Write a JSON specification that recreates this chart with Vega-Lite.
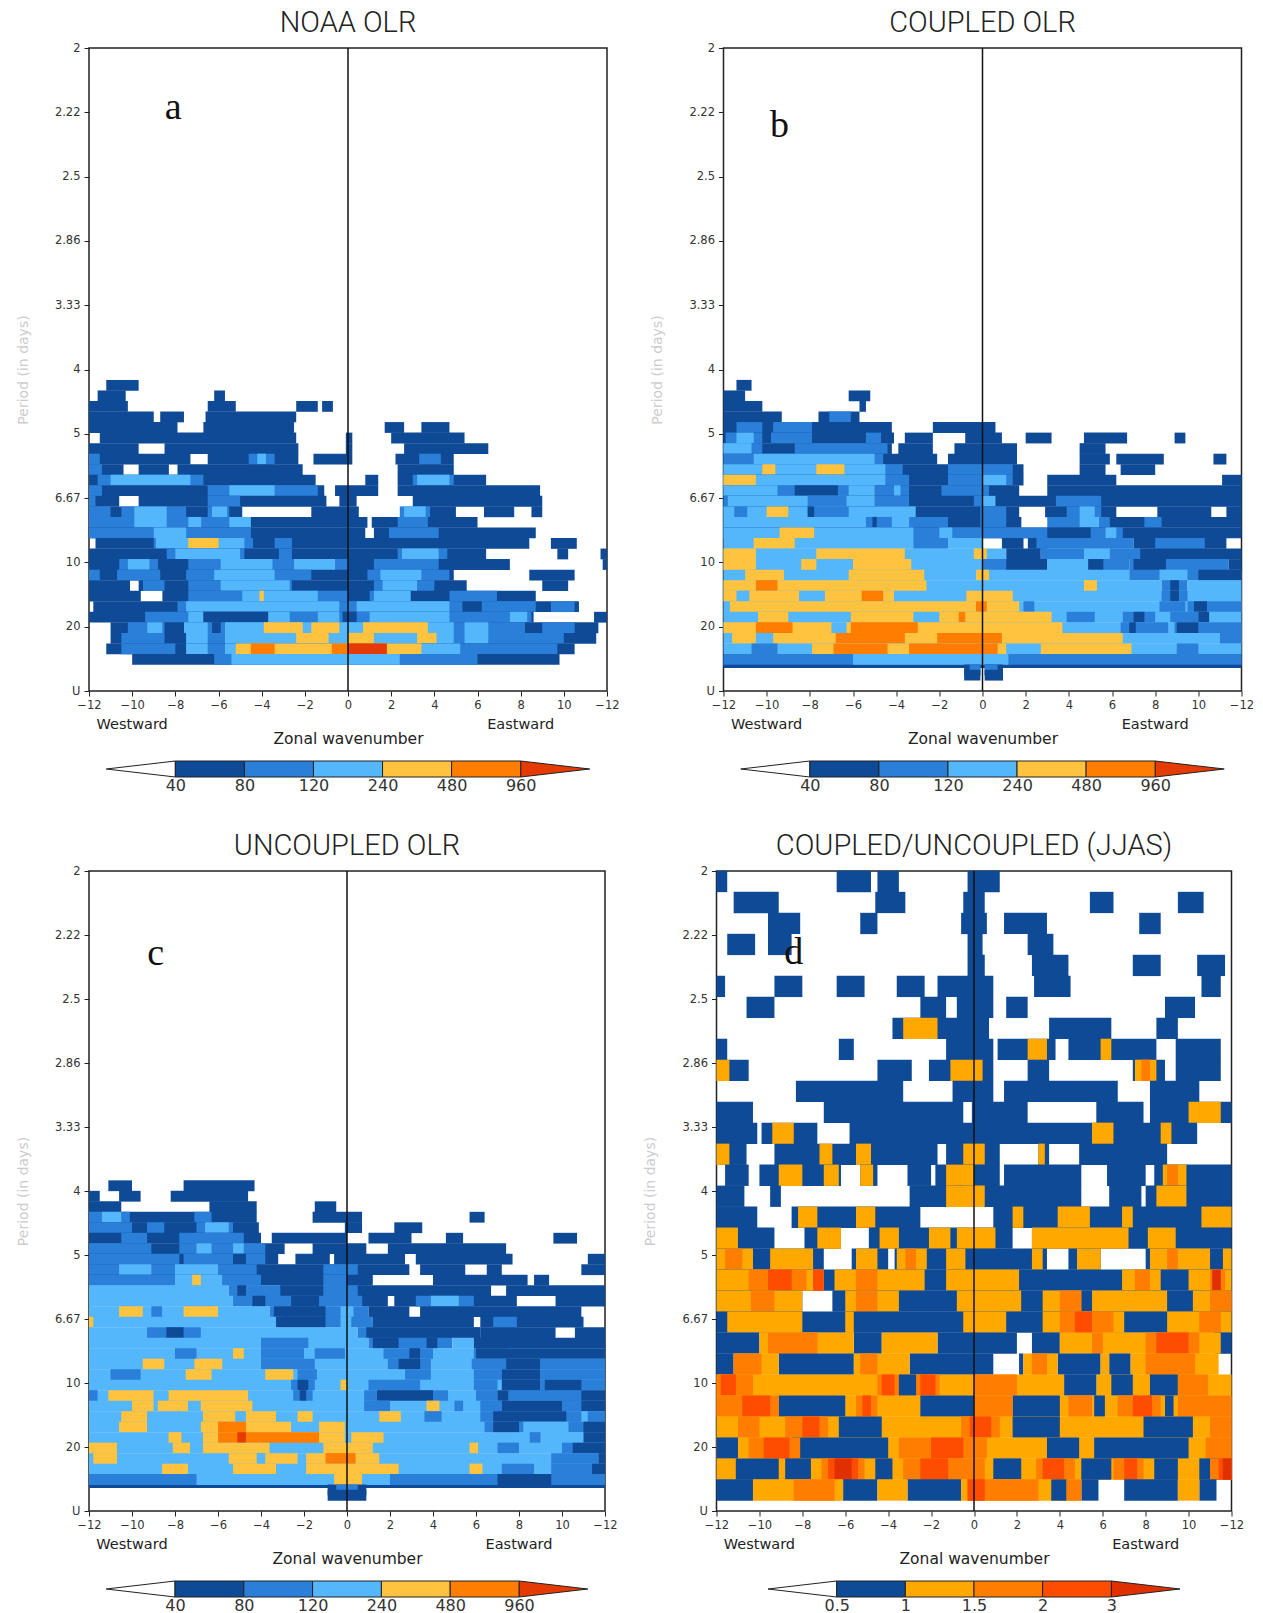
{"$schema":"https://vega.github.io/schema/vega-lite/v6.json","background":"white","padding":{"left":15,"top":8,"right":0,"bottom":0},
"config":{"view":{"stroke":"#222","strokeWidth":1.5},"title":{"font":"Roboto","fontSize":29,"fontWeight":300,"color":"#222","offset":4},"axis":{"grid":false,"labelFont":"DejaVu Sans","labelFontSize":11.5,"labelColor":"#333","titleFont":"DejaVu Sans","titleFontWeight":"normal","tickColor":"#222","domain":false,"labelFlush":false}},
"datasets":{
"a":[
{"n":29,"x0":-11.2,"x1":-9.7,"v":40},
{"n":28,"x0":-11.6,"x1":-10.3,"v":40},{"n":28,"x0":-6.2,"x1":-5.7,"v":40},
{"n":27,"x0":-12,"x1":-10.2,"v":40},{"n":27,"x0":-6.5,"x1":-5.2,"v":40},{"n":27,"x0":-2.4,"x1":-1.4,"v":40},{"n":27,"x0":-1.2,"x1":-0.7,"v":40},
{"n":26,"x0":-12,"x1":-9,"v":40},{"n":26,"x0":-8.7,"x1":-7.6,"v":40},{"n":26,"x0":-6.6,"x1":-2.4,"v":40},
{"n":25,"x0":-12,"x1":-7.9,"v":40},{"n":25,"x0":-6.7,"x1":-2.5,"v":40},{"n":25,"x0":1.7,"x1":2.6,"v":40},{"n":25,"x0":3.4,"x1":4.7,"v":40},
{"n":24,"x0":-11.5,"x1":-2.4,"v":40},{"n":24,"x0":-0.1,"x1":0.2,"v":40},{"n":24,"x0":2,"x1":5.4,"v":40},
{"n":23,"x0":-12,"x1":-9.7,"v":40},{"n":23,"x0":-8.5,"x1":-2.3,"v":40},{"n":23,"x0":-0.1,"x1":0.2,"v":40},{"n":23,"x0":2.6,"x1":6.5,"v":40},
{"n":22,"x0":-12,"x1":-7.3,"v":40},{"n":22,"x0":-6.5,"x1":-2.3,"v":40},{"n":22,"x0":-1.6,"x1":0.2,"v":40},{"n":22,"x0":2.2,"x1":4.9,"v":40},{"n":22,"x0":-12,"x1":-11.5,"v":80},{"n":22,"x0":-4.6,"x1":-3.4,"v":80},{"n":22,"x0":3.3,"x1":4.3,"v":80},{"n":22,"x0":-4.2,"x1":-3.8,"v":120},
{"n":21,"x0":-12,"x1":-10.4,"v":40},{"n":21,"x0":-9.7,"x1":-8.3,"v":40},{"n":21,"x0":-7.9,"x1":-2.1,"v":40},{"n":21,"x0":2.3,"x1":4.9,"v":40},{"n":21,"x0":-12,"x1":-11.4,"v":80},
{"n":20,"x0":-12,"x1":-1.5,"v":40},{"n":20,"x0":0.8,"x1":1.4,"v":40},{"n":20,"x0":2.3,"x1":6.4,"v":40},{"n":20,"x0":-11.6,"x1":-6.7,"v":80},{"n":20,"x0":3,"x1":4.9,"v":80},{"n":20,"x0":-11,"x1":-7.3,"v":120},{"n":20,"x0":3.2,"x1":4.7,"v":120},
{"n":19,"x0":-12,"x1":-1.1,"v":40},{"n":19,"x0":-0.6,"x1":1.4,"v":40},{"n":19,"x0":2.3,"x1":8.9,"v":40},{"n":19,"x0":-12,"x1":-11.4,"v":80},{"n":19,"x0":-6.5,"x1":-1.4,"v":80},{"n":19,"x0":-5.5,"x1":-3.4,"v":120},
{"n":18,"x0":-12,"x1":-10.6,"v":40},{"n":18,"x0":-9.7,"x1":-1,"v":40},{"n":18,"x0":-0.4,"x1":0.4,"v":40},{"n":18,"x0":3,"x1":9,"v":40},{"n":18,"x0":-12,"x1":-11.7,"v":80},{"n":18,"x0":-6.5,"x1":-5,"v":80},
{"n":17,"x0":-12,"x1":-4.9,"v":40},{"n":17,"x0":-1.7,"x1":0.5,"v":40},{"n":17,"x0":3,"x1":5,"v":40},{"n":17,"x0":6.3,"x1":7.7,"v":40},{"n":17,"x0":8.5,"x1":9,"v":40},{"n":17,"x0":-12,"x1":-11,"v":80},{"n":17,"x0":-10.5,"x1":-7.5,"v":80},{"n":17,"x0":-6.5,"x1":-5.5,"v":80},{"n":17,"x0":2.4,"x1":3.8,"v":80},{"n":17,"x0":-9.9,"x1":-8.4,"v":120},{"n":17,"x0":-6.3,"x1":-5.6,"v":120},{"n":17,"x0":2.6,"x1":3.6,"v":120},
{"n":16,"x0":-12,"x1":0.9,"v":40},{"n":16,"x0":1.1,"x1":6,"v":40},{"n":16,"x0":-12,"x1":-4.5,"v":80},{"n":16,"x0":2.3,"x1":3.7,"v":80},{"n":16,"x0":-9.9,"x1":-8.4,"v":120},{"n":16,"x0":-7.4,"x1":-6.8,"v":120},{"n":16,"x0":-5.5,"x1":-4.5,"v":120},
{"n":15,"x0":-12,"x1":0.8,"v":40},{"n":15,"x0":1.2,"x1":8.7,"v":40},{"n":15,"x0":-12,"x1":-4.5,"v":80},{"n":15,"x0":1.9,"x1":4.2,"v":80},{"n":15,"x0":-9,"x1":-7.5,"v":120},
{"n":14,"x0":-11.7,"x1":8.4,"v":40},{"n":14,"x0":9.4,"x1":10.6,"v":40},{"n":14,"x0":-9,"x1":-4.4,"v":80},{"n":14,"x0":-3.4,"x1":-2.6,"v":80},{"n":14,"x0":-8.9,"x1":-4.8,"v":120},{"n":14,"x0":-7.4,"x1":-6,"v":240},
{"n":13,"x0":-12,"x1":6.4,"v":40},{"n":13,"x0":9.7,"x1":10.2,"v":40},{"n":13,"x0":11.7,"x1":12,"v":40},{"n":13,"x0":-8.4,"x1":-4.8,"v":80},{"n":13,"x0":-3.2,"x1":-2.6,"v":80},{"n":13,"x0":2.3,"x1":4.6,"v":80},{"n":13,"x0":-8,"x1":-5,"v":120},{"n":13,"x0":2.5,"x1":4.2,"v":120},
{"n":12,"x0":-12,"x1":7.5,"v":40},{"n":12,"x0":11.8,"x1":12,"v":40},{"n":12,"x0":-10.6,"x1":-8.8,"v":80},{"n":12,"x0":-7.4,"x1":0,"v":80},{"n":12,"x0":1.2,"x1":4.2,"v":80},{"n":12,"x0":-10.2,"x1":-9.2,"v":120},{"n":12,"x0":-5.9,"x1":-3.5,"v":120},{"n":12,"x0":-2.5,"x1":-0.6,"v":120},
{"n":11,"x0":-12,"x1":4.9,"v":40},{"n":11,"x0":8.4,"x1":10.5,"v":40},{"n":11,"x0":-12,"x1":-11.5,"v":80},{"n":11,"x0":-10.7,"x1":-8.7,"v":80},{"n":11,"x0":-7.5,"x1":-1.7,"v":80},{"n":11,"x0":0.9,"x1":4.7,"v":80},{"n":11,"x0":-6.2,"x1":-3.4,"v":120},{"n":11,"x0":1.5,"x1":3.4,"v":120},
{"n":10,"x0":-12,"x1":-10.1,"v":40},{"n":10,"x0":-9.7,"x1":5.5,"v":40},{"n":10,"x0":9,"x1":10.2,"v":40},{"n":10,"x0":-9.5,"x1":-8.5,"v":80},{"n":10,"x0":-7.4,"x1":-2.6,"v":80},{"n":10,"x0":1.2,"x1":4,"v":80},{"n":10,"x0":-5.9,"x1":-2.7,"v":120},{"n":10,"x0":1.6,"x1":3.2,"v":120},
{"n":9,"x0":-12,"x1":-9.6,"v":40},{"n":9,"x0":-8.6,"x1":8.7,"v":40},{"n":9,"x0":-7.4,"x1":0,"v":80},{"n":9,"x0":1,"x1":2.9,"v":80},{"n":9,"x0":4.7,"x1":6.9,"v":80},{"n":9,"x0":-4.9,"x1":-1.4,"v":120},{"n":9,"x0":1.2,"x1":2.9,"v":120},{"n":9,"x0":-4.1,"x1":-3.9,"v":240},
{"n":8,"x0":-11.8,"x1":10.7,"v":40},{"n":8,"x0":-7.9,"x1":8.7,"v":80},{"n":8,"x0":9.4,"x1":10.5,"v":80},{"n":8,"x0":-7.5,"x1":-0.4,"v":120},{"n":8,"x0":0.4,"x1":4.7,"v":120},{"n":8,"x0":5.3,"x1":6.2,"v":40},
{"n":7,"x0":-12,"x1":8.6,"v":40},{"n":7,"x0":11.4,"x1":12,"v":40},{"n":7,"x0":-9.4,"x1":8.5,"v":80},{"n":7,"x0":-7.4,"x1":-6.7,"v":120},{"n":7,"x0":-3.7,"x1":-0.4,"v":120},{"n":7,"x0":1,"x1":4.7,"v":120},{"n":7,"x0":7.5,"x1":8.3,"v":120},{"n":7,"x0":-6.7,"x1":-3.7,"v":40},{"n":7,"x0":-0.25,"x1":0.4,"v":40},{"n":7,"x0":-2.7,"x1":-1.4,"v":80},
{"n":6,"x0":-11,"x1":11.6,"v":40},{"n":6,"x0":-10.2,"x1":8.2,"v":80},{"n":6,"x0":9,"x1":10.5,"v":80},{"n":6,"x0":-9.3,"x1":-8.6,"v":120},{"n":6,"x0":-7.6,"x1":-6.5,"v":120},{"n":6,"x0":-5.7,"x1":4.9,"v":120},{"n":6,"x0":5.4,"x1":6.5,"v":120},{"n":6,"x0":-8.5,"x1":-7.6,"v":40},{"n":6,"x0":-6.3,"x1":-5.9,"v":40},{"n":6,"x0":-3.9,"x1":-2.1,"v":240},{"n":6,"x0":-1.7,"x1":-0.4,"v":240},{"n":6,"x0":0.7,"x1":3.7,"v":240},
{"n":5,"x0":-11,"x1":11.5,"v":40},{"n":5,"x0":-10.5,"x1":10,"v":80},{"n":5,"x0":-8.5,"x1":-7.5,"v":40},{"n":5,"x0":-7.5,"x1":-6.5,"v":120},{"n":5,"x0":-5.7,"x1":4.9,"v":120},{"n":5,"x0":5.4,"x1":6.5,"v":120},{"n":5,"x0":-2.4,"x1":-0.9,"v":240},{"n":5,"x0":0,"x1":1.2,"v":240},{"n":5,"x0":3.2,"x1":4.1,"v":240},
{"n":4,"x0":-11.2,"x1":10.5,"v":40},{"n":4,"x0":-10.5,"x1":-8,"v":80},{"n":4,"x0":-7.5,"x1":9.7,"v":80},{"n":4,"x0":-7.5,"x1":-6.5,"v":120},{"n":4,"x0":-5.7,"x1":5.2,"v":120},{"n":4,"x0":-5.2,"x1":3.4,"v":240},{"n":4,"x0":-4.5,"x1":-3.4,"v":480},{"n":4,"x0":-0.75,"x1":1.75,"v":480},{"n":4,"x0":0,"x1":1.8,"v":960},
{"n":3,"x0":-10,"x1":9.8,"v":40},{"n":3,"x0":-6.2,"x1":6,"v":80},{"n":3,"x0":-5.4,"x1":2.4,"v":120}
],
"b":[
{"n":29,"x0":-11.4,"x1":-10.7,"v":40},
{"n":28,"x0":-12,"x1":-11,"v":40},{"n":28,"x0":-6.2,"x1":-5.2,"v":40},
{"n":27,"x0":-12,"x1":-10.2,"v":40},{"n":27,"x0":-5.7,"x1":-5.4,"v":40},
{"n":26,"x0":-12,"x1":-9.3,"v":40},{"n":26,"x0":-7.6,"x1":-5.7,"v":40},{"n":26,"x0":-7.1,"x1":-6.1,"v":80},
{"n":25,"x0":-12,"x1":-4.2,"v":40},{"n":25,"x0":-2.3,"x1":0.6,"v":40},{"n":25,"x0":-11.4,"x1":-10.2,"v":80},{"n":25,"x0":-9.7,"x1":-7.9,"v":80},
{"n":24,"x0":-12,"x1":-4.1,"v":40},{"n":24,"x0":-3.6,"x1":-2.3,"v":40},{"n":24,"x0":-0.8,"x1":0.9,"v":40},{"n":24,"x0":2,"x1":3.2,"v":40},{"n":24,"x0":4.7,"x1":6.7,"v":40},{"n":24,"x0":8.9,"x1":9.4,"v":40},{"n":24,"x0":-11.9,"x1":-10.2,"v":80},{"n":24,"x0":-9.8,"x1":-7.9,"v":80},{"n":24,"x0":-5.4,"x1":-4.7,"v":80},{"n":24,"x0":-11.4,"x1":-10.6,"v":120},
{"n":23,"x0":-12,"x1":-4.2,"v":40},{"n":23,"x0":-3.9,"x1":-2.3,"v":40},{"n":23,"x0":-1.3,"x1":1.6,"v":40},{"n":23,"x0":4.5,"x1":5.7,"v":40},{"n":23,"x0":-12,"x1":-10.2,"v":80},{"n":23,"x0":-8.7,"x1":-4.4,"v":80},{"n":23,"x0":-12,"x1":-10.7,"v":120},
{"n":22,"x0":-12,"x1":-2.1,"v":40},{"n":22,"x0":-1.6,"x1":1.6,"v":40},{"n":22,"x0":4.5,"x1":5.9,"v":40},{"n":22,"x0":6.2,"x1":8.4,"v":40},{"n":22,"x0":10.7,"x1":11.3,"v":40},{"n":22,"x0":-12,"x1":-4.6,"v":80},{"n":22,"x0":-10.6,"x1":-5,"v":120},
{"n":21,"x0":-12,"x1":1.9,"v":40},{"n":21,"x0":4.5,"x1":5.7,"v":40},{"n":21,"x0":6.4,"x1":8,"v":40},{"n":21,"x0":-12,"x1":-3.7,"v":80},{"n":21,"x0":-1.6,"x1":1.4,"v":80},{"n":21,"x0":-12,"x1":-4.5,"v":120},{"n":21,"x0":-10.2,"x1":-9.6,"v":240},{"n":21,"x0":-7.7,"x1":-6.4,"v":240},
{"n":20,"x0":-12,"x1":1.9,"v":40},{"n":20,"x0":3,"x1":6.2,"v":40},{"n":20,"x0":11.1,"x1":12,"v":40},{"n":20,"x0":-12,"x1":-3.4,"v":80},{"n":20,"x0":-1.6,"x1":1.4,"v":80},{"n":20,"x0":-12,"x1":-4.5,"v":120},{"n":20,"x0":0,"x1":1.1,"v":120},{"n":20,"x0":-12,"x1":-10.5,"v":240},
{"n":19,"x0":-12,"x1":1.7,"v":40},{"n":19,"x0":3,"x1":12,"v":40},{"n":19,"x0":-12,"x1":-3.4,"v":80},{"n":19,"x0":-1.9,"x1":0.3,"v":80},{"n":19,"x0":-12,"x1":-5,"v":120},{"n":19,"x0":-4.1,"x1":-3.8,"v":120},{"n":19,"x0":-9.5,"x1":-6.2,"v":80},{"n":19,"x0":-8.7,"x1":-6.7,"v":40},
{"n":18,"x0":-12,"x1":12,"v":40},{"n":18,"x0":-12,"x1":-3.4,"v":80},{"n":18,"x0":-0.4,"x1":0.4,"v":80},{"n":18,"x0":3.4,"x1":5.5,"v":80},{"n":18,"x0":-11.8,"x1":-5,"v":120},{"n":18,"x0":0,"x1":0.6,"v":120},{"n":18,"x0":-8.1,"x1":-6.3,"v":80},
{"n":17,"x0":-12,"x1":1.7,"v":40},{"n":17,"x0":2.9,"x1":6.2,"v":40},{"n":17,"x0":8.1,"x1":10.6,"v":40},{"n":17,"x0":11.3,"x1":12,"v":40},{"n":17,"x0":-12,"x1":-3.1,"v":80},{"n":17,"x0":-0.1,"x1":1.1,"v":80},{"n":17,"x0":3.9,"x1":5.5,"v":80},{"n":17,"x0":-12,"x1":-3.1,"v":120},{"n":17,"x0":4.5,"x1":5.2,"v":120},{"n":17,"x0":-11.5,"x1":-10.9,"v":80},{"n":17,"x0":-8.1,"x1":-6.2,"v":80},{"n":17,"x0":-10,"x1":-9,"v":240},{"n":17,"x0":-8.1,"x1":-7.8,"v":40},
{"n":16,"x0":-12,"x1":1.8,"v":40},{"n":16,"x0":3.2,"x1":12,"v":40},{"n":16,"x0":-12,"x1":-1.6,"v":80},{"n":16,"x0":-0.1,"x1":1.1,"v":80},{"n":16,"x0":3,"x1":5.9,"v":80},{"n":16,"x0":-12,"x1":-3.4,"v":120},{"n":16,"x0":4.5,"x1":5.4,"v":120},{"n":16,"x0":-5.4,"x1":-4.2,"v":80},{"n":16,"x0":-5.1,"x1":-4.9,"v":40},{"n":16,"x0":7.5,"x1":8.3,"v":80},
{"n":15,"x0":-12,"x1":12,"v":40},{"n":15,"x0":-12,"x1":4.6,"v":80},{"n":15,"x0":5,"x1":6.5,"v":80},{"n":15,"x0":-12,"x1":-3.2,"v":120},{"n":15,"x0":-2,"x1":-1.4,"v":120},{"n":15,"x0":5.7,"x1":6.2,"v":120},{"n":15,"x0":-9.4,"x1":-7.8,"v":240},{"n":15,"x0":3,"x1":5,"v":40},
{"n":14,"x0":-12,"x1":0,"v":120},{"n":14,"x0":-3.2,"x1":-1.6,"v":80},{"n":14,"x0":0.9,"x1":1.9,"v":40},{"n":14,"x0":2.1,"x1":3,"v":40},{"n":14,"x0":2.5,"x1":7,"v":80},{"n":14,"x0":7,"x1":11.3,"v":40},{"n":14,"x0":8,"x1":10.3,"v":80},{"n":14,"x0":-10.6,"x1":-8.7,"v":240},
{"n":13,"x0":-12,"x1":1.1,"v":120},{"n":13,"x0":1.1,"x1":2.7,"v":40},{"n":13,"x0":2.7,"x1":7.3,"v":80},{"n":13,"x0":4.7,"x1":5.9,"v":120},{"n":13,"x0":7.3,"x1":12,"v":40},{"n":13,"x0":-12,"x1":-10.5,"v":240},{"n":13,"x0":-7.7,"x1":-3.6,"v":240},{"n":13,"x0":-0.4,"x1":0.2,"v":240},
{"n":12,"x0":-12,"x1":3,"v":120},{"n":12,"x0":0,"x1":3,"v":80},{"n":12,"x0":1.1,"x1":3,"v":40},{"n":12,"x0":3,"x1":6.8,"v":120},{"n":12,"x0":4.9,"x1":6.8,"v":80},{"n":12,"x0":4.9,"x1":5.6,"v":40},{"n":12,"x0":6.8,"x1":11.4,"v":80},{"n":12,"x0":7,"x1":8.5,"v":40},{"n":12,"x0":11.4,"x1":12,"v":40},{"n":12,"x0":-12,"x1":-10.5,"v":240},{"n":12,"x0":-8.4,"x1":-3.3,"v":240},{"n":12,"x0":-7.7,"x1":-6,"v":120},
{"n":11,"x0":-12,"x1":6.8,"v":120},{"n":11,"x0":6.8,"x1":12,"v":80},{"n":11,"x0":10,"x1":12,"v":40},{"n":11,"x0":8.2,"x1":9.5,"v":120},{"n":11,"x0":-11,"x1":-9.2,"v":240},{"n":11,"x0":-6.2,"x1":-2.7,"v":240},{"n":11,"x0":-0.3,"x1":0.3,"v":240},
{"n":10,"x0":-12,"x1":8.3,"v":120},{"n":10,"x0":8.3,"x1":9.5,"v":80},{"n":10,"x0":8.7,"x1":9.1,"v":40},{"n":10,"x0":9.5,"x1":12,"v":120},{"n":10,"x0":-12,"x1":-2.6,"v":240},{"n":10,"x0":4.7,"x1":5.3,"v":240},{"n":10,"x0":-10.5,"x1":-9.5,"v":480},
{"n":9,"x0":-12,"x1":12,"v":120},{"n":9,"x0":8.3,"x1":9.5,"v":80},{"n":9,"x0":8.7,"x1":9.1,"v":40},{"n":9,"x0":-12,"x1":-4.1,"v":240},{"n":9,"x0":-0.75,"x1":1.4,"v":240},{"n":9,"x0":-11.4,"x1":-10.8,"v":120},{"n":9,"x0":-8.5,"x1":-7.3,"v":120},{"n":9,"x0":-5.6,"x1":-4.6,"v":480},
{"n":8,"x0":-12,"x1":12,"v":120},{"n":8,"x0":1.9,"x1":2.4,"v":80},{"n":8,"x0":8.2,"x1":9.4,"v":80},{"n":8,"x0":9.5,"x1":12,"v":80},{"n":8,"x0":9.8,"x1":10.4,"v":40},{"n":8,"x0":-11.7,"x1":1.7,"v":240},{"n":8,"x0":-0.3,"x1":0.2,"v":480},
{"n":7,"x0":-12,"x1":12,"v":120},{"n":7,"x0":3.9,"x1":5.2,"v":80},{"n":7,"x0":6.5,"x1":8,"v":80},{"n":7,"x0":8.7,"x1":10,"v":80},{"n":7,"x0":7,"x1":7.5,"v":40},{"n":7,"x0":10,"x1":10.5,"v":40},{"n":7,"x0":-10.4,"x1":-9,"v":240},{"n":7,"x0":-6.1,"x1":-3.2,"v":240},{"n":7,"x0":-2,"x1":3.2,"v":240},{"n":7,"x0":-1.1,"x1":-0.8,"v":480},
{"n":6,"x0":-12,"x1":12,"v":120},{"n":6,"x0":6.4,"x1":8.6,"v":80},{"n":6,"x0":8.9,"x1":12,"v":80},{"n":6,"x0":6.8,"x1":7.1,"v":40},{"n":6,"x0":9,"x1":10,"v":40},{"n":6,"x0":-12,"x1":-7,"v":240},{"n":6,"x0":-6.3,"x1":3.7,"v":240},{"n":6,"x0":-10.5,"x1":-8.8,"v":480},{"n":6,"x0":-6.1,"x1":-3,"v":480},
{"n":5,"x0":-12,"x1":12,"v":120},{"n":5,"x0":11,"x1":12,"v":80},{"n":5,"x0":-11.6,"x1":-10.5,"v":240},{"n":5,"x0":-9.7,"x1":6.5,"v":240},{"n":5,"x0":-6.8,"x1":-3.6,"v":480},{"n":5,"x0":-2.1,"x1":0.9,"v":480},
{"n":4,"x0":-12,"x1":12,"v":120},{"n":4,"x0":-10.7,"x1":-9.5,"v":80},{"n":4,"x0":9,"x1":10,"v":80},{"n":4,"x0":-7.9,"x1":1.1,"v":240},{"n":4,"x0":2.7,"x1":6.9,"v":240},{"n":4,"x0":-6.9,"x1":-4.4,"v":480},{"n":4,"x0":-3.4,"x1":0.7,"v":480},
{"n":2.7,"x0":-12,"x1":12,"v":40},{"n":3,"x0":-12,"x1":12,"v":80},{"n":3,"x0":-6,"x1":1.2,"v":120},
{"n":2,"x0":-0.85,"x1":-0.1,"v":40},{"n":2,"x0":0.1,"x1":0.95,"v":40},{"n":2,"x0":-0.6,"x1":-0.1,"v":80},{"n":2,"x0":0.1,"x1":0.7,"v":80},{"n":1.5,"x0":-0.85,"x1":-0.1,"v":40},{"n":1.5,"x0":0.1,"x1":0.95,"v":40}
],
"c":[
{"n":31,"x0":-11.1,"x1":-10,"v":40},{"n":31,"x0":-7.6,"x1":-4.3,"v":40},
{"n":30,"x0":-12,"x1":-11.5,"v":40},{"n":30,"x0":-10.6,"x1":-9.6,"v":40},{"n":30,"x0":-8.2,"x1":-4.6,"v":40},
{"n":29,"x0":-12,"x1":-10.5,"v":40},{"n":29,"x0":-6.4,"x1":-4.2,"v":40},{"n":29,"x0":-1.5,"x1":-0.5,"v":40},
{"n":28,"x0":-12,"x1":-4.2,"v":40},{"n":28,"x0":-1.6,"x1":0.7,"v":40},{"n":28,"x0":5.7,"x1":6.4,"v":40},{"n":28,"x0":-12,"x1":-10.1,"v":80},{"n":28,"x0":-7.1,"x1":-6.3,"v":80},{"n":28,"x0":-11.4,"x1":-10.5,"v":120},
{"n":27,"x0":-12,"x1":-4.1,"v":40},{"n":27,"x0":-0.1,"x1":0.7,"v":40},{"n":27,"x0":2.2,"x1":3.5,"v":40},{"n":27,"x0":-12,"x1":-10,"v":80},{"n":27,"x0":-9.3,"x1":-8.5,"v":80},{"n":27,"x0":-7,"x1":-5.3,"v":80},{"n":27,"x0":-6.6,"x1":-5.5,"v":120},
{"n":26,"x0":-12,"x1":-4,"v":40},{"n":26,"x0":-3.5,"x1":0,"v":40},{"n":26,"x0":1,"x1":3,"v":40},{"n":26,"x0":4.6,"x1":5.4,"v":40},{"n":26,"x0":9.6,"x1":10.7,"v":40},{"n":26,"x0":-10.5,"x1":-9.3,"v":80},{"n":26,"x0":-7.8,"x1":-4.8,"v":80},
{"n":25,"x0":-12,"x1":-2.9,"v":40},{"n":25,"x0":-1.6,"x1":0.9,"v":40},{"n":25,"x0":1.9,"x1":7.4,"v":40},{"n":25,"x0":-12,"x1":-9.1,"v":80},{"n":25,"x0":-7.8,"x1":-3.8,"v":80},{"n":25,"x0":-7,"x1":-6.3,"v":120},{"n":25,"x0":-5.3,"x1":-4.8,"v":120},
{"n":24,"x0":-12,"x1":-3.2,"v":40},{"n":24,"x0":-2.4,"x1":-0.8,"v":40},{"n":24,"x0":-0.6,"x1":2.7,"v":40},{"n":24,"x0":3.2,"x1":7.7,"v":40},{"n":24,"x0":11.2,"x1":12,"v":40},{"n":24,"x0":-12,"x1":-7.8,"v":80},{"n":24,"x0":-7.6,"x1":-3.8,"v":80},{"n":24,"x0":-5.3,"x1":-4.7,"v":40},
{"n":23,"x0":-12,"x1":2.9,"v":40},{"n":23,"x0":3.4,"x1":5.5,"v":40},{"n":23,"x0":6.5,"x1":7.2,"v":40},{"n":23,"x0":10.9,"x1":12,"v":40},{"n":23,"x0":-12,"x1":-4.2,"v":80},{"n":23,"x0":-1.1,"x1":0.5,"v":80},{"n":23,"x0":-10.6,"x1":-9.1,"v":120},{"n":23,"x0":-8,"x1":-6,"v":120},
{"n":22,"x0":-12,"x1":1.2,"v":40},{"n":22,"x0":4,"x1":8.4,"v":40},{"n":22,"x0":8.7,"x1":9.4,"v":40},{"n":22,"x0":-12,"x1":-8,"v":80},{"n":22,"x0":-5.8,"x1":-4,"v":80},{"n":22,"x0":-1.1,"x1":0,"v":80},{"n":22,"x0":-8,"x1":-5.8,"v":120},{"n":22,"x0":-7.2,"x1":-6.8,"v":240},
{"n":21,"x0":-12,"x1":-5.5,"v":120},{"n":21,"x0":-5.5,"x1":0.9,"v":80},{"n":21,"x0":-5.1,"x1":-4.7,"v":40},{"n":21,"x0":-3.1,"x1":-1.1,"v":40},{"n":21,"x0":0,"x1":6.7,"v":40},{"n":21,"x0":7.4,"x1":12,"v":40},{"n":21,"x0":-1,"x1":0.5,"v":80},
{"n":20,"x0":-12,"x1":-5.3,"v":120},{"n":20,"x0":-5.3,"x1":0.7,"v":80},{"n":20,"x0":-4.4,"x1":-3.8,"v":40},{"n":20,"x0":-2.6,"x1":-1.3,"v":40},{"n":20,"x0":0.7,"x1":1.9,"v":40},{"n":20,"x0":2.2,"x1":7.9,"v":40},{"n":20,"x0":9.7,"x1":12,"v":40},{"n":20,"x0":3.2,"x1":5.9,"v":80},{"n":20,"x0":3.9,"x1":5.2,"v":120},
{"n":19,"x0":-12,"x1":-3.6,"v":120},{"n":19,"x0":-10.6,"x1":-9.5,"v":240},{"n":19,"x0":-7.6,"x1":-6,"v":240},{"n":19,"x0":-9.1,"x1":-8.6,"v":80},{"n":19,"x0":-3.6,"x1":1,"v":80},{"n":19,"x0":-3.4,"x1":-1,"v":40},{"n":19,"x0":-0.3,"x1":0.3,"v":120},{"n":19,"x0":1,"x1":2.9,"v":40},{"n":19,"x0":3.4,"x1":10.9,"v":40},
{"n":18,"x0":-12,"x1":-3,"v":120},{"n":18,"x0":-12,"x1":-11.8,"v":240},{"n":18,"x0":-3,"x1":1.2,"v":80},{"n":18,"x0":-3.3,"x1":-1,"v":40},{"n":18,"x0":-0.3,"x1":0.2,"v":120},{"n":18,"x0":1.2,"x1":5.9,"v":40},{"n":18,"x0":6.2,"x1":11,"v":40},{"n":18,"x0":6.8,"x1":7.9,"v":80},
{"n":17,"x0":-12,"x1":0.5,"v":120},{"n":17,"x0":-9.3,"x1":-6.8,"v":80},{"n":17,"x0":-8.4,"x1":-7.6,"v":40},{"n":17,"x0":0.5,"x1":6.2,"v":80},{"n":17,"x0":0.9,"x1":6.2,"v":40},{"n":17,"x0":6.2,"x1":9.7,"v":40},{"n":17,"x0":10.6,"x1":12,"v":40},
{"n":16,"x0":-12,"x1":1,"v":120},{"n":16,"x0":-4,"x1":-1.8,"v":80},{"n":16,"x0":1,"x1":4.9,"v":80},{"n":16,"x0":1.2,"x1":2.4,"v":40},{"n":16,"x0":3.7,"x1":4.2,"v":40},{"n":16,"x0":4.9,"x1":5.9,"v":120},{"n":16,"x0":5.9,"x1":12,"v":40},
{"n":15,"x0":-12,"x1":12,"v":120},{"n":15,"x0":-8,"x1":-7,"v":80},{"n":15,"x0":-4,"x1":-2,"v":80},{"n":15,"x0":-1.5,"x1":-0.1,"v":80},{"n":15,"x0":1.7,"x1":4,"v":80},{"n":15,"x0":2.9,"x1":3.4,"v":40},{"n":15,"x0":5.9,"x1":7.4,"v":80},{"n":15,"x0":6,"x1":12,"v":40},{"n":15,"x0":-5.3,"x1":-4.8,"v":240},
{"n":14,"x0":-12,"x1":12,"v":120},{"n":14,"x0":-9.5,"x1":-8.5,"v":240},{"n":14,"x0":-7.1,"x1":-5.8,"v":240},{"n":14,"x0":-4,"x1":-1.5,"v":80},{"n":14,"x0":1.9,"x1":3.9,"v":80},{"n":14,"x0":2.4,"x1":3.4,"v":40},{"n":14,"x0":5.8,"x1":7.4,"v":80},{"n":14,"x0":7.4,"x1":9,"v":40},{"n":14,"x0":9,"x1":12,"v":80},
{"n":13,"x0":-12,"x1":12,"v":120},{"n":13,"x0":-11,"x1":-9.6,"v":80},{"n":13,"x0":-2.3,"x1":-1.4,"v":80},{"n":13,"x0":2.7,"x1":3.9,"v":80},{"n":13,"x0":5.9,"x1":7.2,"v":80},{"n":13,"x0":-7.5,"x1":-6.3,"v":240},{"n":13,"x0":-3.8,"x1":-2.5,"v":240},{"n":13,"x0":7.2,"x1":9,"v":40},{"n":13,"x0":9,"x1":12,"v":80},
{"n":12,"x0":-12,"x1":12,"v":120},{"n":12,"x0":-2.6,"x1":-1.5,"v":80},{"n":12,"x0":1,"x1":3.4,"v":80},{"n":12,"x0":5.9,"x1":7,"v":80},{"n":12,"x0":-2.3,"x1":-1.8,"v":40},{"n":12,"x0":7.2,"x1":9,"v":40},{"n":12,"x0":9,"x1":12,"v":80},{"n":12,"x0":9.2,"x1":10.9,"v":40},{"n":12,"x0":-0.3,"x1":0,"v":240},
{"n":11,"x0":-12,"x1":12,"v":120},{"n":11,"x0":-12,"x1":-11.6,"v":80},{"n":11,"x0":-2.5,"x1":-1.6,"v":80},{"n":11,"x0":0.8,"x1":4.7,"v":80},{"n":11,"x0":-2.2,"x1":-1.9,"v":40},{"n":11,"x0":1.4,"x1":4,"v":40},{"n":11,"x0":6,"x1":7,"v":80},{"n":11,"x0":7,"x1":12,"v":40},{"n":11,"x0":7.5,"x1":10.9,"v":80},{"n":11,"x0":-11.1,"x1":-9,"v":240},{"n":11,"x0":-8.3,"x1":-4.6,"v":240},
{"n":10,"x0":-12,"x1":12,"v":120},{"n":10,"x0":0.8,"x1":2,"v":80},{"n":10,"x0":5,"x1":5.4,"v":80},{"n":10,"x0":6.2,"x1":7.2,"v":80},{"n":10,"x0":7.2,"x1":12,"v":40},{"n":10,"x0":10,"x1":10.9,"v":80},{"n":10,"x0":-10,"x1":-9,"v":240},{"n":10,"x0":-8.8,"x1":-7.4,"v":240},{"n":10,"x0":-6.8,"x1":-4.4,"v":240},{"n":10,"x0":3.7,"x1":4.3,"v":240},
{"n":9,"x0":-12,"x1":12,"v":120},{"n":9,"x0":3.6,"x1":4.4,"v":80},{"n":9,"x0":6.2,"x1":12,"v":80},{"n":9,"x0":6.8,"x1":10.2,"v":40},{"n":9,"x0":10.9,"x1":11.2,"v":120},{"n":9,"x0":-10.5,"x1":-9.3,"v":240},{"n":9,"x0":-6.7,"x1":-3.3,"v":240},{"n":9,"x0":-2.3,"x1":-1.6,"v":240},{"n":9,"x0":1.5,"x1":2.5,"v":240},{"n":9,"x0":-5.2,"x1":-4.7,"v":120},
{"n":8,"x0":-12,"x1":12,"v":120},{"n":8,"x0":6.4,"x1":12,"v":80},{"n":8,"x0":6.8,"x1":8,"v":40},{"n":8,"x0":11,"x1":12,"v":40},{"n":8,"x0":8.2,"x1":10.3,"v":120},{"n":8,"x0":-10.6,"x1":-9.3,"v":240},{"n":8,"x0":-6.8,"x1":-2.6,"v":240},{"n":8,"x0":-1.3,"x1":-0.1,"v":240},{"n":8,"x0":-6,"x1":-4.7,"v":480},
{"n":7,"x0":-12,"x1":12,"v":120},{"n":7,"x0":8.5,"x1":9,"v":80},{"n":7,"x0":11,"x1":12,"v":40},{"n":7,"x0":-8.3,"x1":-7.7,"v":240},{"n":7,"x0":-6.7,"x1":-0.1,"v":240},{"n":7,"x0":0.2,"x1":1.7,"v":240},{"n":7,"x0":-6,"x1":-1.3,"v":480},{"n":7,"x0":-5.1,"x1":-4.7,"v":960},
{"n":6,"x0":-12,"x1":12,"v":120},{"n":6,"x0":7,"x1":8,"v":80},{"n":6,"x0":10,"x1":12,"v":80},{"n":6,"x0":10.5,"x1":12,"v":40},{"n":6,"x0":-12,"x1":-10.7,"v":240},{"n":6,"x0":-8.1,"x1":-7.3,"v":240},{"n":6,"x0":-6.7,"x1":-3.6,"v":240},{"n":6,"x0":-1.1,"x1":1.2,"v":240},{"n":6,"x0":5.7,"x1":6.1,"v":240},
{"n":5,"x0":-12,"x1":12,"v":120},{"n":5,"x0":9.5,"x1":11.7,"v":80},{"n":5,"x0":11.7,"x1":12,"v":40},{"n":5,"x0":-11.8,"x1":-10.7,"v":240},{"n":5,"x0":-5.5,"x1":-2.3,"v":240},{"n":5,"x0":-1.9,"x1":1.5,"v":240},{"n":5,"x0":-4.2,"x1":-3.8,"v":120},{"n":5,"x0":-1,"x1":0.4,"v":480},
{"n":4,"x0":-12,"x1":12,"v":120},{"n":4,"x0":7.2,"x1":8.7,"v":80},{"n":4,"x0":9.5,"x1":11.5,"v":80},{"n":4,"x0":11.4,"x1":12,"v":40},{"n":4,"x0":-8.6,"x1":-7.4,"v":240},{"n":4,"x0":-5.3,"x1":-3.3,"v":240},{"n":4,"x0":-1.9,"x1":2.4,"v":240},{"n":4,"x0":5.7,"x1":6.3,"v":240},
{"n":2.7,"x0":-12,"x1":12,"v":40},{"n":3,"x0":-12,"x1":12,"v":80},{"n":3,"x0":-7,"x1":2,"v":120},{"n":3,"x0":-0.6,"x1":0.7,"v":240},{"n":3,"x0":7,"x1":9.5,"v":40},
{"n":2,"x0":-0.9,"x1":0.9,"v":40},{"n":2,"x0":-0.5,"x1":0.5,"v":80},{"n":1.5,"x0":-0.9,"x1":0.9,"v":40}
],
"d":[
{"n":60,"x0":-12,"x1":-11.5,"v":0.5},{"n":60,"x0":-6.4,"x1":-4.8,"v":0.5},{"n":60,"x0":-4.5,"x1":-3.5,"v":0.5},{"n":60,"x0":-0.3,"x1":1.2,"v":0.5},
{"n":58,"x0":-11.2,"x1":-9.1,"v":0.5},{"n":58,"x0":-4.6,"x1":-3.2,"v":0.5},{"n":58,"x0":-0.5,"x1":0.5,"v":0.5},{"n":58,"x0":5.4,"x1":6.5,"v":0.5},{"n":58,"x0":9.5,"x1":10.7,"v":0.5},
{"n":56,"x0":-9.6,"x1":-8.1,"v":0.5},{"n":56,"x0":-5.3,"x1":-4.5,"v":0.5},{"n":56,"x0":-0.6,"x1":0.6,"v":0.5},{"n":56,"x0":1.4,"x1":3.4,"v":0.5},{"n":56,"x0":7.7,"x1":8.7,"v":0.5},
{"n":54,"x0":-11.5,"x1":-10.2,"v":0.5},{"n":54,"x0":-9.6,"x1":-8.5,"v":0.5},{"n":54,"x0":-0.3,"x1":0.4,"v":0.5},{"n":54,"x0":2.5,"x1":3.7,"v":0.5},
{"n":52,"x0":-0.3,"x1":0.5,"v":0.5},{"n":52,"x0":2.7,"x1":4.4,"v":0.5},{"n":52,"x0":7.4,"x1":8.7,"v":0.5},{"n":52,"x0":10.4,"x1":11.7,"v":0.5},
{"n":50,"x0":-12,"x1":-11.6,"v":0.5},{"n":50,"x0":-9.3,"x1":-8,"v":0.5},{"n":50,"x0":-6.4,"x1":-5.1,"v":0.5},{"n":50,"x0":-3.6,"x1":-2.3,"v":0.5},{"n":50,"x0":-1.7,"x1":0.9,"v":0.5},{"n":50,"x0":2.8,"x1":4.5,"v":0.5},{"n":50,"x0":10.6,"x1":11.5,"v":0.5},
{"n":48,"x0":-10.6,"x1":-9.3,"v":0.5},{"n":48,"x0":-2.5,"x1":-1.3,"v":0.5},{"n":48,"x0":-0.8,"x1":0.9,"v":0.5},{"n":48,"x0":1.5,"x1":2.5,"v":0.5},{"n":48,"x0":8.9,"x1":10.3,"v":0.5},
{"n":46,"x0":-3.8,"x1":0.7,"v":0.5},{"n":46,"x0":3.5,"x1":6.4,"v":0.5},{"n":46,"x0":8.5,"x1":9.5,"v":0.5},{"n":46,"x0":-3.3,"x1":-1.7,"v":1},
{"n":44,"x0":-12,"x1":-11.5,"v":0.5},{"n":44,"x0":-6.3,"x1":-5.6,"v":0.5},{"n":44,"x0":-1.3,"x1":0.9,"v":0.5},{"n":44,"x0":1.1,"x1":3.8,"v":0.5},{"n":44,"x0":4.4,"x1":8.5,"v":0.5},{"n":44,"x0":9.4,"x1":11.5,"v":0.5},{"n":44,"x0":2.5,"x1":3.4,"v":1},{"n":44,"x0":5.9,"x1":6.4,"v":1},
{"n":42,"x0":-12,"x1":-10.5,"v":0.5},{"n":42,"x0":-4.5,"x1":-2.9,"v":0.5},{"n":42,"x0":-2.1,"x1":0.9,"v":0.5},{"n":42,"x0":2.5,"x1":3.5,"v":0.5},{"n":42,"x0":7.4,"x1":8.9,"v":0.5},{"n":42,"x0":9.4,"x1":11.5,"v":0.5},{"n":42,"x0":-12,"x1":-11.4,"v":1},{"n":42,"x0":-1.1,"x1":0.4,"v":1},{"n":42,"x0":7.5,"x1":8.5,"v":1},{"n":42,"x0":7.8,"x1":8.2,"v":1.5},
{"n":40,"x0":-8.3,"x1":-3.3,"v":0.5},{"n":40,"x0":-1,"x1":0.9,"v":0.5},{"n":40,"x0":1.4,"x1":6.7,"v":0.5},{"n":40,"x0":8.2,"x1":10.5,"v":0.5},
{"n":38,"x0":-12,"x1":-10.3,"v":0.5},{"n":38,"x0":-7,"x1":-0.5,"v":0.5},{"n":38,"x0":-0.1,"x1":2.5,"v":0.5},{"n":38,"x0":5.7,"x1":7.9,"v":0.5},{"n":38,"x0":8.2,"x1":12,"v":0.5},{"n":38,"x0":10,"x1":11.5,"v":1},
{"n":36,"x0":-12,"x1":-10.1,"v":0.5},{"n":36,"x0":-9.9,"x1":-7.3,"v":0.5},{"n":36,"x0":-5.8,"x1":8.9,"v":0.5},{"n":36,"x0":8.2,"x1":10.4,"v":0.5},{"n":36,"x0":-9.4,"x1":-8.4,"v":1},{"n":36,"x0":5.5,"x1":6.5,"v":1},{"n":36,"x0":8.7,"x1":9.2,"v":1},
{"n":34,"x0":-12,"x1":-10.6,"v":0.5},{"n":34,"x0":-9.3,"x1":-1.7,"v":0.5},{"n":34,"x0":-1.3,"x1":1.2,"v":0.5},{"n":34,"x0":3,"x1":3.5,"v":0.5},{"n":34,"x0":4.9,"x1":9,"v":0.5},{"n":34,"x0":-12,"x1":-11.4,"v":1},{"n":34,"x0":-7.2,"x1":-6.6,"v":1},{"n":34,"x0":-5.5,"x1":-4.8,"v":1},{"n":34,"x0":-0.5,"x1":0.5,"v":1},{"n":34,"x0":3,"x1":3.3,"v":1},
{"n":32,"x0":-11.6,"x1":-10.5,"v":0.5},{"n":32,"x0":-10,"x1":-6.2,"v":0.5},{"n":32,"x0":-5.3,"x1":-4.5,"v":0.5},{"n":32,"x0":-3.1,"x1":-2,"v":0.5},{"n":32,"x0":-1.8,"x1":1.2,"v":0.5},{"n":32,"x0":1.4,"x1":5,"v":0.5},{"n":32,"x0":6.2,"x1":8,"v":0.5},{"n":32,"x0":8.4,"x1":12,"v":0.5},{"n":32,"x0":-9.1,"x1":-8,"v":1},{"n":32,"x0":-7,"x1":-6.3,"v":1},{"n":32,"x0":-5.3,"x1":-4.7,"v":1},{"n":32,"x0":-1.3,"x1":0,"v":1},{"n":32,"x0":8.8,"x1":9.9,"v":1},{"n":32,"x0":9,"x1":9.5,"v":1.5},
{"n":30,"x0":-12,"x1":-10.7,"v":0.5},{"n":30,"x0":-9.5,"x1":-9,"v":0.5},{"n":30,"x0":-3,"x1":5,"v":0.5},{"n":30,"x0":6.3,"x1":7.8,"v":0.5},{"n":30,"x0":8,"x1":12,"v":0.5},{"n":30,"x0":-1.3,"x1":0.5,"v":1},{"n":30,"x0":8.5,"x1":9.9,"v":1},
{"n":28,"x0":-12,"x1":-10.1,"v":0.5},{"n":28,"x0":-8.5,"x1":-2.5,"v":0.5},{"n":28,"x0":0.9,"x1":12,"v":0.5},{"n":28,"x0":-8.2,"x1":-7.3,"v":1},{"n":28,"x0":-5.5,"x1":-4.6,"v":1},{"n":28,"x0":1.8,"x1":2.3,"v":1},{"n":28,"x0":3.9,"x1":5.4,"v":1},{"n":28,"x0":6.9,"x1":7.4,"v":1},{"n":28,"x0":10.6,"x1":12,"v":1},
{"n":26,"x0":-12,"x1":-9.3,"v":0.5},{"n":26,"x0":-7.9,"x1":-6.2,"v":0.5},{"n":26,"x0":-4.9,"x1":1.8,"v":0.5},{"n":26,"x0":2.7,"x1":12,"v":0.5},{"n":26,"x0":-12,"x1":-11,"v":1},{"n":26,"x0":-7.3,"x1":-6.2,"v":1},{"n":26,"x0":-4.4,"x1":-3.5,"v":1},{"n":26,"x0":-2.1,"x1":-1.1,"v":1},{"n":26,"x0":-0.8,"x1":1,"v":1},{"n":26,"x0":2.7,"x1":7.2,"v":1},{"n":26,"x0":8.1,"x1":9.4,"v":1},
{"n":24,"x0":-12,"x1":-7,"v":0.5},{"n":24,"x0":-5.7,"x1":-4,"v":0.5},{"n":24,"x0":-3.7,"x1":3.4,"v":0.5},{"n":24,"x0":4.4,"x1":5.9,"v":0.5},{"n":24,"x0":8,"x1":12,"v":0.5},{"n":24,"x0":-12,"x1":-10.3,"v":1},{"n":24,"x0":-9.5,"x1":-7.5,"v":1},{"n":24,"x0":-5.5,"x1":-4.5,"v":1},{"n":24,"x0":-3.6,"x1":-2.2,"v":1},{"n":24,"x0":-1.3,"x1":-0.4,"v":1},{"n":24,"x0":2.7,"x1":3.2,"v":1},{"n":24,"x0":4.8,"x1":5.9,"v":1},{"n":24,"x0":8.2,"x1":11,"v":1},{"n":24,"x0":11.6,"x1":12,"v":1},{"n":24,"x0":-11.6,"x1":-10.8,"v":1.5},{"n":24,"x0":-3.2,"x1":-2.7,"v":1.5},{"n":24,"x0":9,"x1":9.5,"v":1.5},
{"n":22,"x0":-12,"x1":12,"v":0.5},{"n":22,"x0":-12,"x1":-7,"v":1},{"n":22,"x0":-6.5,"x1":-2.3,"v":1},{"n":22,"x0":-1.3,"x1":2.1,"v":1},{"n":22,"x0":6.9,"x1":8.7,"v":1},{"n":22,"x0":10,"x1":12,"v":1},{"n":22,"x0":-10.5,"x1":-7.8,"v":1.5},{"n":22,"x0":-5.5,"x1":-4.5,"v":1.5},{"n":22,"x0":7.5,"x1":8.2,"v":1.5},{"n":22,"x0":11,"x1":11.7,"v":1.5},{"n":22,"x0":-9.6,"x1":-8.5,"v":2},{"n":22,"x0":-7.5,"x1":-7,"v":2},{"n":22,"x0":11.1,"x1":11.5,"v":3},
{"n":20,"x0":-12,"x1":-8,"v":0.5},{"n":20,"x0":-6.6,"x1":12,"v":0.5},{"n":20,"x0":-12,"x1":-8,"v":1},{"n":20,"x0":-6,"x1":-3.5,"v":1},{"n":20,"x0":-0.8,"x1":2.2,"v":1},{"n":20,"x0":3.2,"x1":5,"v":1},{"n":20,"x0":5.5,"x1":9,"v":1},{"n":20,"x0":10.2,"x1":12,"v":1},{"n":20,"x0":-10.4,"x1":-9.3,"v":1.5},{"n":20,"x0":-5.5,"x1":-4.5,"v":1.5},{"n":20,"x0":4,"x1":5,"v":1.5},{"n":20,"x0":11,"x1":12,"v":1.5},
{"n":18,"x0":-12,"x1":12,"v":0.5},{"n":18,"x0":-11.5,"x1":-8,"v":1},{"n":18,"x0":-0.5,"x1":1.5,"v":1},{"n":18,"x0":3.2,"x1":7,"v":1},{"n":18,"x0":9,"x1":12,"v":1},{"n":18,"x0":-6,"x1":-5.6,"v":1},{"n":18,"x0":4,"x1":6.5,"v":1.5},{"n":18,"x0":10.5,"x1":11.5,"v":1.5},{"n":18,"x0":4.7,"x1":5.5,"v":2},
{"n":16,"x0":-12,"x1":-10,"v":0.5},{"n":16,"x0":-5.6,"x1":-4.3,"v":0.5},{"n":16,"x0":-1.7,"x1":2,"v":0.5},{"n":16,"x0":2.7,"x1":4,"v":0.5},{"n":16,"x0":11.2,"x1":12,"v":0.5},{"n":16,"x0":-10,"x1":-5.6,"v":1},{"n":16,"x0":-4.3,"x1":-1.7,"v":1},{"n":16,"x0":4,"x1":11.5,"v":1},{"n":16,"x0":-9.6,"x1":-7.3,"v":1.5},{"n":16,"x0":5.5,"x1":6,"v":1.5},{"n":16,"x0":8,"x1":10.5,"v":1.5},{"n":16,"x0":8.5,"x1":10,"v":2},
{"n":14,"x0":-12,"x1":-11.2,"v":0.5},{"n":14,"x0":-9.1,"x1":-5.6,"v":0.5},{"n":14,"x0":-3,"x1":0.9,"v":0.5},{"n":14,"x0":2.1,"x1":2.3,"v":0.5},{"n":14,"x0":3.9,"x1":5.9,"v":0.5},{"n":14,"x0":6.3,"x1":7.3,"v":0.5},{"n":14,"x0":-11.2,"x1":-9.1,"v":1},{"n":14,"x0":-5.6,"x1":-3,"v":1},{"n":14,"x0":2.3,"x1":3.9,"v":1},{"n":14,"x0":7.3,"x1":11.4,"v":1},{"n":14,"x0":5.9,"x1":6.3,"v":1},{"n":14,"x0":-11.2,"x1":-9.9,"v":1.5},{"n":14,"x0":-5.3,"x1":-4.5,"v":1.5},{"n":14,"x0":2.7,"x1":3.4,"v":1.5},{"n":14,"x0":8,"x1":10.3,"v":1.5},
{"n":12,"x0":-12,"x1":4.2,"v":1},{"n":12,"x0":5.7,"x1":12,"v":1},{"n":12,"x0":4.2,"x1":5.7,"v":0.5},{"n":12,"x0":6.4,"x1":7.4,"v":0.5},{"n":12,"x0":8.2,"x1":9.5,"v":0.5},{"n":12,"x0":-12,"x1":-10.3,"v":1.5},{"n":12,"x0":-4.5,"x1":-1.6,"v":1.5},{"n":12,"x0":0,"x1":2,"v":1.5},{"n":12,"x0":9.5,"x1":10.9,"v":1.5},{"n":12,"x0":-11.8,"x1":-11.1,"v":2},{"n":12,"x0":-4.3,"x1":-3.7,"v":2},{"n":12,"x0":-2.5,"x1":-1.8,"v":2},{"n":12,"x0":-3.5,"x1":-2.7,"v":0.5},
{"n":10,"x0":-12,"x1":12,"v":1},{"n":10,"x0":-9.1,"x1":-6,"v":0.5},{"n":10,"x0":-2.5,"x1":0,"v":0.5},{"n":10,"x0":1.8,"x1":4,"v":0.5},{"n":10,"x0":5.6,"x1":6.1,"v":0.5},{"n":10,"x0":8.9,"x1":9.3,"v":0.5},{"n":10,"x0":-12,"x1":-9.1,"v":1.5},{"n":10,"x0":-5.5,"x1":-4.5,"v":1.5},{"n":10,"x0":0,"x1":1.8,"v":1.5},{"n":10,"x0":4.4,"x1":5.5,"v":1.5},{"n":10,"x0":6.7,"x1":8.7,"v":1.5},{"n":10,"x0":9.5,"x1":12,"v":1.5},{"n":10,"x0":-10.8,"x1":-9.5,"v":2},{"n":10,"x0":-5.2,"x1":-4.8,"v":2},{"n":10,"x0":7.4,"x1":8.3,"v":2},
{"n":8,"x0":-12,"x1":12,"v":1},{"n":8,"x0":-6.3,"x1":-4.3,"v":0.5},{"n":8,"x0":1.8,"x1":4,"v":0.5},{"n":8,"x0":7.9,"x1":10.2,"v":0.5},{"n":8,"x0":-8.8,"x1":-6.8,"v":1.5},{"n":8,"x0":-11,"x1":-10,"v":1.5},{"n":8,"x0":-0.6,"x1":1.2,"v":1.5},{"n":8,"x0":11,"x1":12,"v":1.5},{"n":8,"x0":-8,"x1":-7.2,"v":2},{"n":8,"x0":-0.2,"x1":0.8,"v":2},
{"n":6,"x0":-12,"x1":12,"v":1},{"n":6,"x0":-12,"x1":-11,"v":0.5},{"n":6,"x0":-8.5,"x1":-4,"v":0.5},{"n":6,"x0":3.4,"x1":4.9,"v":0.5},{"n":6,"x0":5.6,"x1":10,"v":0.5},{"n":6,"x0":-10.5,"x1":-8.1,"v":1.5},{"n":6,"x0":-3.5,"x1":0.6,"v":1.5},{"n":6,"x0":10.8,"x1":12,"v":1.5},{"n":6,"x0":-9.8,"x1":-8.6,"v":2},{"n":6,"x0":-2,"x1":-0.5,"v":2},
{"n":4,"x0":-12,"x1":12,"v":1},{"n":4,"x0":-11.1,"x1":-9.1,"v":0.5},{"n":4,"x0":-8.8,"x1":-7.6,"v":0.5},{"n":4,"x0":-4.6,"x1":-3.8,"v":0.5},{"n":4,"x0":0.9,"x1":2.2,"v":0.5},{"n":4,"x0":5,"x1":6.4,"v":0.5},{"n":4,"x0":8.4,"x1":9.5,"v":0.5},{"n":4,"x0":10.5,"x1":11.4,"v":0.5},{"n":4,"x0":-7.1,"x1":-5.1,"v":1.5},{"n":4,"x0":-3.3,"x1":0.5,"v":1.5},{"n":4,"x0":2.9,"x1":4.7,"v":1.5},{"n":4,"x0":6.5,"x1":7.9,"v":1.5},{"n":4,"x0":11,"x1":12,"v":1.5},{"n":4,"x0":-6.8,"x1":-5.4,"v":2},{"n":4,"x0":-2.5,"x1":-1.2,"v":2},{"n":4,"x0":3.2,"x1":4.2,"v":2},{"n":4,"x0":7,"x1":7.6,"v":2},{"n":4,"x0":11.4,"x1":12,"v":2},{"n":4,"x0":-6.5,"x1":-5.7,"v":3},{"n":4,"x0":11.6,"x1":12,"v":3},
{"n":2,"x0":-12,"x1":-10.3,"v":0.5},{"n":2,"x0":-6.1,"x1":-4.5,"v":0.5},{"n":2,"x0":-3.1,"x1":-0.6,"v":0.5},{"n":2,"x0":5,"x1":5.8,"v":0.5},{"n":2,"x0":7,"x1":9.5,"v":0.5},{"n":2,"x0":10.5,"x1":11.3,"v":0.5},{"n":2,"x0":-10.3,"x1":-6.1,"v":1},{"n":2,"x0":-4.5,"x1":-3.1,"v":1},{"n":2,"x0":-0.6,"x1":5,"v":1},{"n":2,"x0":9.5,"x1":10.5,"v":1},{"n":2,"x0":-8.4,"x1":-6.5,"v":1.5},{"n":2,"x0":-0.3,"x1":3,"v":1.5},{"n":2,"x0":4,"x1":5,"v":1.5},{"n":2,"x0":-0.3,"x1":0.5,"v":2},{"n":2,"x0":3.6,"x1":4.3,"v":0.5}
]},
"spacing":38,"resolve":{"scale":{"color":"independent"}},
"vconcat":[{"spacing":29.5,"hconcat":[
{"spacing":11,"vconcat":[
{"width":518,"height":643,"title":"NOAA OLR","layer":[
{"data":{"name":"a"},"mark":{"type":"rect","height":10.8},"encoding":{"x":{"field":"x0","type":"quantitative","scale":{"domain":[-12,12],"nice":false},"axis":{"values":[-12,-10,-8,-6,-4,-2,0,2,4,6,8,10,12],"labelExpr":"datum.value==12?'−12':datum.label","title":"Zonal wavenumber","titleFontSize":15.5,"titleColor":"#222","titlePadding":21,"tickSize":5,"labelPadding":3}},"x2":{"field":"x1"},"y":{"field":"n","type":"quantitative","scale":{"domain":[0,61],"nice":false},"axis":{"values":[0,6.1,12.2,18.3,24.4,30.5,36.6,42.7,48.8,54.9,61],"labelExpr":"['U','20','10','6.67','5','4','3.33','2.86','2.5','2.22','2'][round(datum.value/6.1)]","title":"Period (in days)","titleFontSize":14,"titleColor":"#ccc","titlePadding":24,"tickSize":5,"labelPadding":4}},"color":{"field":"v","type":"ordinal","scale":{"domain":[40,80,120,240,480,960],"range":["#0f4a96","#2a7fd8","#54b6fb","#ffc340","#ff7d00","#e53a00"]},"legend":null}}},
{"data":{"values":[{"wave":0}]},"mark":{"type":"rule","color":"#111","strokeWidth":1.5},"encoding":{"x":{"field":"wave","type":"quantitative"}}},
{"data":{"values":[{"wave":-10,"n":-3.2,"label":"Westward"},{"wave":8,"n":-3.2,"label":"Eastward"}]},"mark":{"type":"text","font":"DejaVu Sans","fontSize":14.5,"color":"#222"},"encoding":{"x":{"field":"wave","type":"quantitative"},"y":{"field":"n","type":"quantitative"},"text":{"field":"label"}}},
{"data":{"values":[{"wave":-8.1,"n":55.3,"label":"a"}]},"mark":{"type":"text","font":"Liberation Serif","fontSize":38,"color":"#111"},"encoding":{"x":{"field":"wave","type":"quantitative"},"y":{"field":"n","type":"quantitative"},"text":{"field":"label"}}}
]},
{"width":518,"height":16,"view":{"stroke":null},"layer":[
{"data":{"values":[{"pos":0,"low":0.5,"high":0.5},{"pos":1,"low":0,"high":1}]},"mark":{"type":"area","color":"white","stroke":"#222","strokeWidth":1},"encoding":{"x":{"field":"pos","type":"quantitative","scale":{"domain":[-0.25,7.25],"nice":false},"axis":{"values":[1,2,3,4,5,6],"labelExpr":"['40','80','120','240','480','960'][datum.value-1]","title":null,"ticks":false,"labelFontSize":16,"labelPadding":0}},"y":{"field":"low","type":"quantitative","scale":{"domain":[0,1]},"axis":null},"y2":{"field":"high"}}},
{"data":{"values":[{"pos":6,"low":0,"high":1},{"pos":7,"low":0.5,"high":0.5}]},"mark":{"type":"area","color":"#e53a00","stroke":"#222","strokeWidth":1},"encoding":{"x":{"field":"pos","type":"quantitative"},"y":{"field":"low","type":"quantitative"},"y2":{"field":"high"}}},
{"data":{"values":[{"x0":1,"x1":2,"v":40},{"x0":2,"x1":3,"v":80},{"x0":3,"x1":4,"v":120},{"x0":4,"x1":5,"v":240},{"x0":5,"x1":6,"v":480}]},"mark":{"type":"rect","stroke":"#222","strokeWidth":1},"encoding":{"x":{"field":"x0","type":"quantitative"},"x2":{"field":"x1"},"color":{"field":"v","type":"ordinal","scale":{"domain":[40,80,120,240,480,960],"range":["#0f4a96","#2a7fd8","#54b6fb","#ffc340","#ff7d00","#e53a00"]},"legend":null}}}
]}
]},
{"spacing":11,"vconcat":[
{"width":518,"height":643,"title":"COUPLED OLR","layer":[
{"data":{"name":"b"},"mark":{"type":"rect","height":10.8},"encoding":{"x":{"field":"x0","type":"quantitative","scale":{"domain":[-12,12],"nice":false},"axis":{"values":[-12,-10,-8,-6,-4,-2,0,2,4,6,8,10,12],"labelExpr":"datum.value==12?'−12':datum.label","title":"Zonal wavenumber","titleFontSize":15.5,"titleColor":"#222","titlePadding":21,"tickSize":5,"labelPadding":3}},"x2":{"field":"x1"},"y":{"field":"n","type":"quantitative","scale":{"domain":[0,61],"nice":false},"axis":{"values":[0,6.1,12.2,18.3,24.4,30.5,36.6,42.7,48.8,54.9,61],"labelExpr":"['U','20','10','6.67','5','4','3.33','2.86','2.5','2.22','2'][round(datum.value/6.1)]","title":"Period (in days)","titleFontSize":14,"titleColor":"#ccc","titlePadding":24,"tickSize":5,"labelPadding":4}},"color":{"field":"v","type":"ordinal","scale":{"domain":[40,80,120,240,480,960],"range":["#0f4a96","#2a7fd8","#54b6fb","#ffc340","#ff7d00","#e53a00"]},"legend":null}}},
{"data":{"values":[{"wave":0}]},"mark":{"type":"rule","color":"#111","strokeWidth":1.5},"encoding":{"x":{"field":"wave","type":"quantitative"}}},
{"data":{"values":[{"wave":-10,"n":-3.2,"label":"Westward"},{"wave":8,"n":-3.2,"label":"Eastward"}]},"mark":{"type":"text","font":"DejaVu Sans","fontSize":14.5,"color":"#222"},"encoding":{"x":{"field":"wave","type":"quantitative"},"y":{"field":"n","type":"quantitative"},"text":{"field":"label"}}},
{"data":{"values":[{"wave":-9.4,"n":53.6,"label":"b"}]},"mark":{"type":"text","font":"Liberation Serif","fontSize":38,"color":"#111"},"encoding":{"x":{"field":"wave","type":"quantitative"},"y":{"field":"n","type":"quantitative"},"text":{"field":"label"}}}
]},
{"width":518,"height":16,"view":{"stroke":null},"layer":[
{"data":{"values":[{"pos":0,"low":0.5,"high":0.5},{"pos":1,"low":0,"high":1}]},"mark":{"type":"area","color":"white","stroke":"#222","strokeWidth":1},"encoding":{"x":{"field":"pos","type":"quantitative","scale":{"domain":[-0.25,7.25],"nice":false},"axis":{"values":[1,2,3,4,5,6],"labelExpr":"['40','80','120','240','480','960'][datum.value-1]","title":null,"ticks":false,"labelFontSize":16,"labelPadding":0}},"y":{"field":"low","type":"quantitative","scale":{"domain":[0,1]},"axis":null},"y2":{"field":"high"}}},
{"data":{"values":[{"pos":6,"low":0,"high":1},{"pos":7,"low":0.5,"high":0.5}]},"mark":{"type":"area","color":"#e53a00","stroke":"#222","strokeWidth":1},"encoding":{"x":{"field":"pos","type":"quantitative"},"y":{"field":"low","type":"quantitative"},"y2":{"field":"high"}}},
{"data":{"values":[{"x0":1,"x1":2,"v":40},{"x0":2,"x1":3,"v":80},{"x0":3,"x1":4,"v":120},{"x0":4,"x1":5,"v":240},{"x0":5,"x1":6,"v":480}]},"mark":{"type":"rect","stroke":"#222","strokeWidth":1},"encoding":{"x":{"field":"x0","type":"quantitative"},"x2":{"field":"x1"},"color":{"field":"v","type":"ordinal","scale":{"domain":[40,80,120,240,480,960],"range":["#0f4a96","#2a7fd8","#54b6fb","#ffc340","#ff7d00","#e53a00"]},"legend":null}}}
]}
]}
]},
{"spacing":24.5,"resolve":{"scale":{"color":"independent"}},"hconcat":[
{"spacing":11,"vconcat":[
{"width":516,"height":640,"title":"UNCOUPLED OLR","layer":[
{"data":{"name":"c"},"mark":{"type":"rect","height":10.8},"encoding":{"x":{"field":"x0","type":"quantitative","scale":{"domain":[-12,12],"nice":false},"axis":{"values":[-12,-10,-8,-6,-4,-2,0,2,4,6,8,10,12],"labelExpr":"datum.value==12?'−12':datum.label","title":"Zonal wavenumber","titleFontSize":15.5,"titleColor":"#222","titlePadding":21,"tickSize":5,"labelPadding":3}},"x2":{"field":"x1"},"y":{"field":"n","type":"quantitative","scale":{"domain":[0,61],"nice":false},"axis":{"values":[0,6.1,12.2,18.3,24.4,30.5,36.6,42.7,48.8,54.9,61],"labelExpr":"['U','20','10','6.67','5','4','3.33','2.86','2.5','2.22','2'][round(datum.value/6.1)]","title":"Period (in days)","titleFontSize":14,"titleColor":"#ccc","titlePadding":24,"tickSize":5,"labelPadding":4}},"color":{"field":"v","type":"ordinal","scale":{"domain":[40,80,120,240,480,960],"range":["#0f4a96","#2a7fd8","#54b6fb","#ffc340","#ff7d00","#e53a00"]},"legend":null}}},
{"data":{"values":[{"wave":0}]},"mark":{"type":"rule","color":"#111","strokeWidth":1.5},"encoding":{"x":{"field":"wave","type":"quantitative"}}},
{"data":{"values":[{"wave":-10,"n":-3.2,"label":"Westward"},{"wave":8,"n":-3.2,"label":"Eastward"}]},"mark":{"type":"text","font":"DejaVu Sans","fontSize":14.5,"color":"#222"},"encoding":{"x":{"field":"wave","type":"quantitative"},"y":{"field":"n","type":"quantitative"},"text":{"field":"label"}}},
{"data":{"values":[{"wave":-8.9,"n":53.1,"label":"c"}]},"mark":{"type":"text","font":"Liberation Serif","fontSize":38,"color":"#111"},"encoding":{"x":{"field":"wave","type":"quantitative"},"y":{"field":"n","type":"quantitative"},"text":{"field":"label"}}}
]},
{"width":516,"height":16,"view":{"stroke":null},"layer":[
{"data":{"values":[{"pos":0,"low":0.5,"high":0.5},{"pos":1,"low":0,"high":1}]},"mark":{"type":"area","color":"white","stroke":"#222","strokeWidth":1},"encoding":{"x":{"field":"pos","type":"quantitative","scale":{"domain":[-0.25,7.25],"nice":false},"axis":{"values":[1,2,3,4,5,6],"labelExpr":"['40','80','120','240','480','960'][datum.value-1]","title":null,"ticks":false,"labelFontSize":16,"labelPadding":0}},"y":{"field":"low","type":"quantitative","scale":{"domain":[0,1]},"axis":null},"y2":{"field":"high"}}},
{"data":{"values":[{"pos":6,"low":0,"high":1},{"pos":7,"low":0.5,"high":0.5}]},"mark":{"type":"area","color":"#e53a00","stroke":"#222","strokeWidth":1},"encoding":{"x":{"field":"pos","type":"quantitative"},"y":{"field":"low","type":"quantitative"},"y2":{"field":"high"}}},
{"data":{"values":[{"x0":1,"x1":2,"v":40},{"x0":2,"x1":3,"v":80},{"x0":3,"x1":4,"v":120},{"x0":4,"x1":5,"v":240},{"x0":5,"x1":6,"v":480}]},"mark":{"type":"rect","stroke":"#222","strokeWidth":1},"encoding":{"x":{"field":"x0","type":"quantitative"},"x2":{"field":"x1"},"color":{"field":"v","type":"ordinal","scale":{"domain":[40,80,120,240,480,960],"range":["#0f4a96","#2a7fd8","#54b6fb","#ffc340","#ff7d00","#e53a00"]},"legend":null}}}
]}
]},
{"spacing":11,"vconcat":[
{"width":515,"height":640,"title":"COUPLED/UNCOUPLED (JJAS)","layer":[
{"data":{"name":"d"},"mark":{"type":"rect","height":21.3},"encoding":{"x":{"field":"x0","type":"quantitative","scale":{"domain":[-12,12],"nice":false},"axis":{"values":[-12,-10,-8,-6,-4,-2,0,2,4,6,8,10,12],"labelExpr":"datum.value==12?'−12':datum.label","title":"Zonal wavenumber","titleFontSize":15.5,"titleColor":"#222","titlePadding":21,"tickSize":5,"labelPadding":3}},"x2":{"field":"x1"},"y":{"field":"n","type":"quantitative","scale":{"domain":[0,61],"nice":false},"axis":{"values":[0,6.1,12.2,18.3,24.4,30.5,36.6,42.7,48.8,54.9,61],"labelExpr":"['U','20','10','6.67','5','4','3.33','2.86','2.5','2.22','2'][round(datum.value/6.1)]","title":"Period (in days)","titleFontSize":14,"titleColor":"#ccc","titlePadding":24,"tickSize":5,"labelPadding":4}},"color":{"field":"v","type":"ordinal","scale":{"domain":[0.5,1,1.5,2,3],"range":["#0f4a96","#ffa800","#ff7d00","#ff4d00","#e03000"]},"legend":null}}},
{"data":{"values":[{"wave":0}]},"mark":{"type":"rule","color":"#111","strokeWidth":1.5},"encoding":{"x":{"field":"wave","type":"quantitative"}}},
{"data":{"values":[{"wave":-10,"n":-3.2,"label":"Westward"},{"wave":8,"n":-3.2,"label":"Eastward"}]},"mark":{"type":"text","font":"DejaVu Sans","fontSize":14.5,"color":"#222"},"encoding":{"x":{"field":"wave","type":"quantitative"},"y":{"field":"n","type":"quantitative"},"text":{"field":"label"}}},
{"data":{"values":[{"wave":-8.4,"n":53.2,"label":"d"}]},"mark":{"type":"text","font":"Liberation Serif","fontSize":38,"color":"#111"},"encoding":{"x":{"field":"wave","type":"quantitative"},"y":{"field":"n","type":"quantitative"},"text":{"field":"label"}}}
]},
{"width":515,"height":16,"view":{"stroke":null},"layer":[
{"data":{"values":[{"pos":0,"low":0.5,"high":0.5},{"pos":1,"low":0,"high":1}]},"mark":{"type":"area","color":"white","stroke":"#222","strokeWidth":1},"encoding":{"x":{"field":"pos","type":"quantitative","scale":{"domain":[-0.75,6.75],"nice":false},"axis":{"values":[1,2,3,4,5],"labelExpr":"['0.5','1','1.5','2','3'][datum.value-1]","title":null,"ticks":false,"labelFontSize":16,"labelPadding":0}},"y":{"field":"low","type":"quantitative","scale":{"domain":[0,1]},"axis":null},"y2":{"field":"high"}}},
{"data":{"values":[{"pos":5,"low":0,"high":1},{"pos":6,"low":0.5,"high":0.5}]},"mark":{"type":"area","color":"#e03000","stroke":"#222","strokeWidth":1},"encoding":{"x":{"field":"pos","type":"quantitative"},"y":{"field":"low","type":"quantitative"},"y2":{"field":"high"}}},
{"data":{"values":[{"x0":1,"x1":2,"v":0.5},{"x0":2,"x1":3,"v":1},{"x0":3,"x1":4,"v":1.5},{"x0":4,"x1":5,"v":2}]},"mark":{"type":"rect","stroke":"#222","strokeWidth":1},"encoding":{"x":{"field":"x0","type":"quantitative"},"x2":{"field":"x1"},"color":{"field":"v","type":"ordinal","scale":{"domain":[0.5,1,1.5,2,3],"range":["#0f4a96","#ffa800","#ff7d00","#ff4d00","#e03000"]},"legend":null}}}
]}
]}
]}
]}
